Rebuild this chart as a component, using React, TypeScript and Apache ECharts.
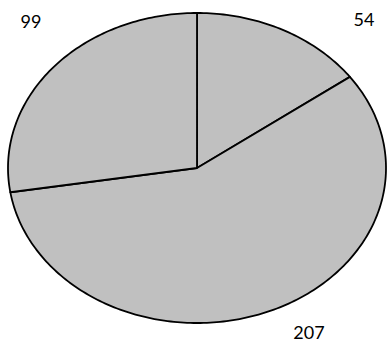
import React, { useEffect, useRef } from "react";
import * as echarts from "echarts";

const categories = ["Slice 1", "Slice 2", "Slice 3"];
const values = [54, 207, 99];
const labelTexts = ["54", "207", "99"];

export default function App() {
  const ref = useRef<HTMLDivElement>(null);
  useEffect(() => {
    document.body.style.margin = "0";
    if (!ref.current) return;
    const chart = echarts.init(ref.current, null, { renderer: "svg" });
    const total = values.reduce((a, b) => a + b, 0);
    const cx = 197, cy = 168, rx = 189, ry = 155;
    const labelPos = [
      [364, 19],
      [309, 332],
      [31, 21],
    ];
    chart.setOption({
      animation: false,
      backgroundColor: "#ffffff",
      series: [
        {
          type: "custom",
          coordinateSystem: "none",
          data: values.map((v, i) => ({ name: categories[i], value: [v, i] })),
          renderItem: (params: any, api: any) => {
            const i = params.dataIndex;
            const v = api.value(0);
            let start = 0;
            for (let k = 0; k < i; k++) start += values[k];
            const a0 = (start / total) * Math.PI * 2;
            const a1 = ((start + v) / total) * Math.PI * 2;
            const n = Math.max(2, Math.ceil(((a1 - a0) * 180) / Math.PI));
            const pts: number[][] = [[cx, cy]];
            for (let j = 0; j <= n; j++) {
              const a = a0 + ((a1 - a0) * j) / n;
              pts.push([cx + rx * Math.sin(a), cy - ry * Math.cos(a)]);
            }
            return {
              type: "polygon",
              shape: { points: pts },
              style: { fill: "#c0c0c0", stroke: "#000000", lineWidth: 1.8, lineJoin: "round" },
            };
          },
        },
      ],
      graphic: labelTexts.map((t, i) => ({
        type: "text",
        x: labelPos[i][0],
        y: labelPos[i][1],
        style: {
          text: t,
          fill: "#000000",
          font: "18px Lato",
          textAlign: "center",
          textVerticalAlign: "middle",
        },
      })),
    });
    return () => chart.dispose();
  }, []);
  return <div ref={ref} style={{ width: 389, height: 343 }} />;
}
